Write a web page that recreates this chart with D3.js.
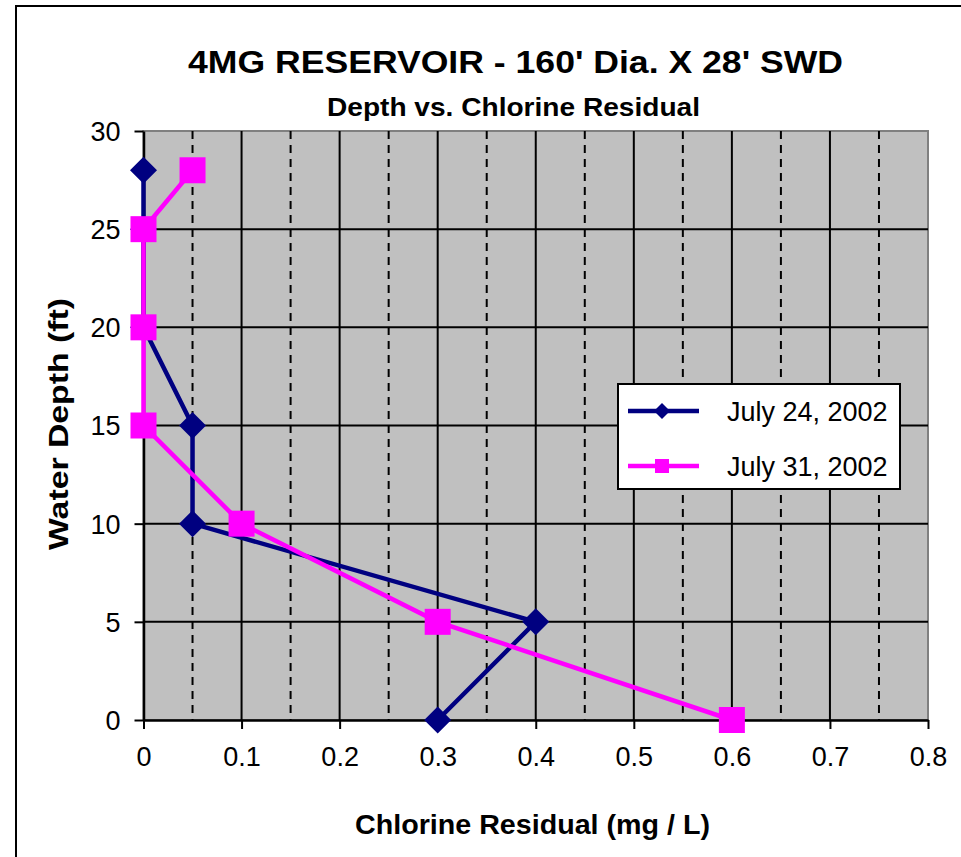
<!DOCTYPE html>
<html>
<head>
<meta charset="utf-8">
<script src="https://cdn.jsdelivr.net/npm/d3@7"></script>
<style>
  body { margin: 0; background: #fff; }
  text { font-family: "Liberation Sans", Arial, sans-serif; fill: #000; }
</style>
</head>
<body>
<svg width="961" height="857"></svg>
<script>
// depth (ft) vs chlorine residual (mg/L)
var depths = [28, 25, 20, 15, 10, 5, 0];
var july24 = [0, 0, 0, 0.05, 0.05, 0.4, 0.3];
var july31 = [0.05, 0, 0, 0, 0.1, 0.3, 0.6];
var seriesNames = ["July 24, 2002", "July 31, 2002"];
var xTicks = [0, 0.1, 0.2, 0.3, 0.4, 0.5, 0.6, 0.7, 0.8];
var xMinor = [0.05, 0.15, 0.25, 0.35, 0.45, 0.55, 0.65, 0.75];
var yTicks = [0, 5, 10, 15, 20, 25, 30];

var svg = d3.select("svg");

var x = d3.scaleLinear().domain([0, 0.8]).range([143.5, 928]);
var y = d3.scaleLinear().domain([0, 30]).range([720, 131]);

// outer chart border (runs off the picture on right / bottom)
svg.append("rect")
  .attr("x", 16).attr("y", 6)
  .attr("width", 980).attr("height", 900)
  .attr("fill", "#fff")
  .attr("stroke", "#000")
  .attr("stroke-width", 2);

// plot area
svg.append("rect")
  .attr("x", x(0)).attr("y", y(30))
  .attr("width", x(0.8) - x(0)).attr("height", y(0) - y(30))
  .attr("fill", "#c0c0c0")
  .attr("stroke", "#808080")
  .attr("stroke-width", 2);

var grid = svg.append("g");
grid.selectAll("line.minor")
  .data(xMinor)
  .enter()
  .append("line")
  .attr("x1", function (d) { return x(d); })
  .attr("x2", function (d) { return x(d); })
  .attr("y1", y(30)).attr("y2", y(0))
  .attr("stroke", "#000")
  .attr("stroke-width", 2)
  .attr("stroke-dasharray", "8,6");
grid.selectAll("line.vmaj")
  .data(xTicks.slice(1, -1))
  .enter()
  .append("line")
  .attr("x1", function (d) { return x(d); })
  .attr("x2", function (d) { return x(d); })
  .attr("y1", y(30)).attr("y2", y(0))
  .attr("stroke", "#000")
  .attr("stroke-width", 2);
grid.selectAll("line.hmaj")
  .data(yTicks.slice(1, -1))
  .enter()
  .append("line")
  .attr("x1", x(0)).attr("x2", x(0.8))
  .attr("y1", function (d) { return y(d); })
  .attr("y2", function (d) { return y(d); })
  .attr("stroke", "#000")
  .attr("stroke-width", 2);

// axes
var xAxis = svg.append("g")
  .attr("transform", "translate(0," + y(0) + ")")
  .call(d3.axisBottom(x).tickValues(xTicks).tickFormat(d3.format("")).tickSize(9).tickSizeOuter(0));
var yAxis = svg.append("g")
  .attr("transform", "translate(" + x(0) + ",0)")
  .call(d3.axisLeft(y).tickValues(yTicks).tickSize(9).tickSizeOuter(0));

[xAxis, yAxis].forEach(function (a) {
  a.select(".domain").attr("stroke", "#000").attr("stroke-width", 2.5);
  a.selectAll(".tick line").attr("stroke", "#000").attr("stroke-width", 2);
  a.selectAll(".tick text")
    .attr("fill", "#000")
    .style("font-family", "'Liberation Sans', Arial, sans-serif")
    .style("font-size", "27px");
});
xAxis.selectAll(".tick text").attr("y", 27).attr("dy", "0.71em");
yAxis.selectAll(".tick text").attr("x", -23).attr("dy", "0.35em");

// series
var pts1 = depths.map(function (d, i) { return { v: july24[i], d: d }; });
var pts2 = depths.map(function (d, i) { return { v: july31[i], d: d }; });

var line = d3.line()
  .x(function (p) { return x(p.v); })
  .y(function (p) { return y(p.d); });

svg.append("path")
  .datum(pts1)
  .attr("d", line)
  .attr("fill", "none")
  .attr("stroke", "#000080")
  .attr("stroke-width", 4.5);
svg.append("g")
  .selectAll("path")
  .data(pts1)
  .enter()
  .append("path")
  .attr("transform", function (p) { return "translate(" + x(p.v) + "," + y(p.d) + ")"; })
  .attr("d", "M0,-13.5L13.5,0L0,13.5L-13.5,0Z")
  .attr("fill", "#000080");

svg.append("path")
  .datum(pts2)
  .attr("d", line)
  .attr("fill", "none")
  .attr("stroke", "#ff00ff")
  .attr("stroke-width", 4.5);
svg.append("g")
  .selectAll("rect")
  .data(pts2)
  .enter()
  .append("rect")
  .attr("x", function (p) { return x(p.v) - 13; })
  .attr("y", function (p) { return y(p.d) - 13; })
  .attr("width", 26).attr("height", 26)
  .attr("fill", "#ff00ff");

// titles
svg.append("text")
  .attr("x", 188).attr("y", 73)
  .attr("textLength", 655).attr("lengthAdjust", "spacingAndGlyphs")
  .style("font-size", "32px").style("font-weight", "bold")
  .text("4MG RESERVOIR - 160' Dia. X 28' SWD");
svg.append("text")
  .attr("x", 327).attr("y", 116)
  .attr("textLength", 373).attr("lengthAdjust", "spacingAndGlyphs")
  .style("font-size", "26px").style("font-weight", "bold")
  .text("Depth vs. Chlorine Residual");
svg.append("text")
  .attr("x", 355).attr("y", 834)
  .attr("textLength", 355).attr("lengthAdjust", "spacingAndGlyphs")
  .style("font-size", "27px").style("font-weight", "bold")
  .text("Chlorine Residual (mg / L)");
svg.append("text")
  .attr("transform", "translate(68,550) rotate(-90)")
  .attr("textLength", 252).attr("lengthAdjust", "spacingAndGlyphs")
  .style("font-size", "27px").style("font-weight", "bold")
  .text("Water Depth (ft)");

// legend
var legend = svg.append("g");
legend.append("rect")
  .attr("x", 618).attr("y", 384)
  .attr("width", 282).attr("height", 105)
  .attr("fill", "#fff")
  .attr("stroke", "#000")
  .attr("stroke-width", 2);
var rows = [
  { name: seriesNames[0], color: "#000080", shape: "diamond", cy: 411 },
  { name: seriesNames[1], color: "#ff00ff", shape: "square", cy: 466 }
];
rows.forEach(function (r) {
  legend.append("line")
    .attr("x1", 628).attr("x2", 699)
    .attr("y1", r.cy).attr("y2", r.cy)
    .attr("stroke", r.color)
    .attr("stroke-width", 4.5);
  if (r.shape == "diamond") {
    legend.append("path")
      .attr("transform", "translate(662," + r.cy + ")")
      .attr("d", "M0,-8L8,0L0,8L-8,0Z")
      .attr("fill", r.color);
  } else {
    legend.append("rect")
      .attr("x", 662 - 7).attr("y", r.cy - 7)
      .attr("width", 14).attr("height", 14)
      .attr("fill", r.color);
  }
  legend.append("text")
    .attr("x", 727).attr("y", r.cy + 10)
    .style("font-size", "27px")
    .text(r.name);
});
</script>
</body>
</html>
